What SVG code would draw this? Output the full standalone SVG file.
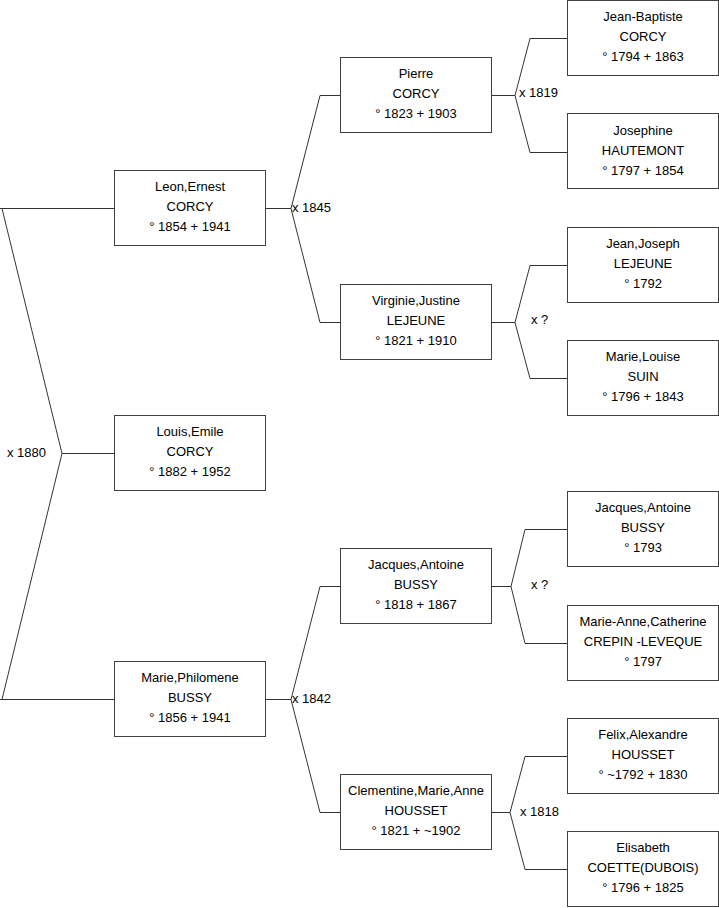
<svg xmlns="http://www.w3.org/2000/svg" width="719" height="908" viewBox="0 0 719 908">
<style>
.box{fill:#fff;stroke:#404040;stroke-width:1}
.n{font-family:"Liberation Sans",Arial,sans-serif;font-size:13px;fill:#000;text-anchor:middle}
.lbl{font-family:"Liberation Sans",Arial,sans-serif;font-size:13px;fill:#000}
.c{fill:none;stroke:#333;stroke-width:1}
</style>
<rect width="719" height="908" fill="#fff"/>
<g id="connectors">
<path class="c" d="M0,208.5H114M2,208.5L62,453.5L2,699.5M62,453.5H114M0,699.5H114"/>
<path class="c" d="M265,208.5H291M320,95.5L291,208.5L320,322.5M320,95.5H340M320,322.5H340"/>
<path class="c" d="M265,699.5H291M320,586.5L291,699.5L320,812.5M320,586.5H340M320,812.5H340"/>
<path class="c" d="M491,95.5H515M530,38.5L515,95.5L530,152.5M530,38.5H567M530,152.5H567"/>
<path class="c" d="M491,322.5H515M530,265.5L515,322.5L530,378.5M530,265.5H567M530,378.5H567"/>
<path class="c" d="M491,586.5H511M525,529.5L511,586.5L525,643.5M525,529.5H567M525,643.5H567"/>
<path class="c" d="M491,812.5H510M525,756.5L510,812.5L525,869.5M525,756.5H567M525,869.5H567"/>
<text class="lbl" x="7" y="457">x 1880</text>
<text class="lbl" x="292" y="212">x 1845</text>
<text class="lbl" x="292" y="703">x 1842</text>
<text class="lbl" x="519" y="97">x 1819</text>
<text class="lbl" x="531" y="324">x ?</text>
<text class="lbl" x="531" y="589">x ?</text>
<text class="lbl" x="520" y="816">x 1818</text>
</g>
<g id="leon">
<rect class="box" x="114.5" y="170.5" width="151" height="75"/>
<text class="n" x="190" y="191">Leon,Ernest</text>
<text class="n" x="190" y="211">CORCY</text>
<text class="n" x="190" y="231">° 1854 + 1941</text>
</g>
<g id="louis">
<rect class="box" x="114.5" y="415.5" width="151" height="75"/>
<text class="n" x="190" y="436">Louis,Emile</text>
<text class="n" x="190" y="456">CORCY</text>
<text class="n" x="190" y="476">° 1882 + 1952</text>
</g>
<g id="marie-philomene">
<rect class="box" x="114.5" y="661.5" width="151" height="75"/>
<text class="n" x="190" y="682">Marie,Philomene</text>
<text class="n" x="190" y="702">BUSSY</text>
<text class="n" x="190" y="722">° 1856 + 1941</text>
</g>
<g id="pierre">
<rect class="box" x="340.5" y="57.5" width="151" height="75"/>
<text class="n" x="416" y="78">Pierre</text>
<text class="n" x="416" y="98">CORCY</text>
<text class="n" x="416" y="118">° 1823 + 1903</text>
</g>
<g id="virginie">
<rect class="box" x="340.5" y="284.5" width="151" height="75"/>
<text class="n" x="416" y="305">Virginie,Justine</text>
<text class="n" x="416" y="325">LEJEUNE</text>
<text class="n" x="416" y="345">° 1821 + 1910</text>
</g>
<g id="jacques-1818">
<rect class="box" x="340.5" y="548.5" width="151" height="75"/>
<text class="n" x="416" y="569">Jacques,Antoine</text>
<text class="n" x="416" y="589">BUSSY</text>
<text class="n" x="416" y="609">° 1818 + 1867</text>
</g>
<g id="clementine">
<rect class="box" x="340.5" y="774.5" width="151" height="75"/>
<text class="n" x="416" y="795">Clementine,Marie,Anne</text>
<text class="n" x="416" y="815">HOUSSET</text>
<text class="n" x="416" y="835">° 1821 + ~1902</text>
</g>
<g id="jean-baptiste">
<rect class="box" x="567.5" y="0.5" width="151" height="75"/>
<text class="n" x="643" y="21">Jean-Baptiste</text>
<text class="n" x="643" y="41">CORCY</text>
<text class="n" x="643" y="61">° 1794 + 1863</text>
</g>
<g id="josephine">
<rect class="box" x="567.5" y="113.5" width="151" height="75"/>
<text class="n" x="643" y="135">Josephine</text>
<text class="n" x="643" y="155">HAUTEMONT</text>
<text class="n" x="643" y="175">° 1797 + 1854</text>
</g>
<g id="jean-joseph">
<rect class="box" x="567.5" y="227.5" width="151" height="75"/>
<text class="n" x="643" y="248">Jean,Joseph</text>
<text class="n" x="643" y="268">LEJEUNE</text>
<text class="n" x="643" y="288">° 1792</text>
</g>
<g id="marie-louise">
<rect class="box" x="567.5" y="340.5" width="151" height="75"/>
<text class="n" x="643" y="361">Marie,Louise</text>
<text class="n" x="643" y="381">SUIN</text>
<text class="n" x="643" y="401">° 1796 + 1843</text>
</g>
<g id="jacques-1793">
<rect class="box" x="567.5" y="491.5" width="151" height="75"/>
<text class="n" x="643" y="512">Jacques,Antoine</text>
<text class="n" x="643" y="532">BUSSY</text>
<text class="n" x="643" y="552">° 1793</text>
</g>
<g id="marie-anne">
<rect class="box" x="567.5" y="605.5" width="151" height="75"/>
<text class="n" x="643" y="626">Marie-Anne,Catherine</text>
<text class="n" x="643" y="646">CREPIN -LEVEQUE</text>
<text class="n" x="643" y="666">° 1797</text>
</g>
<g id="felix">
<rect class="box" x="567.5" y="718.5" width="151" height="75"/>
<text class="n" x="643" y="739">Felix,Alexandre</text>
<text class="n" x="643" y="759">HOUSSET</text>
<text class="n" x="643" y="779">° ~1792 + 1830</text>
</g>
<g id="elisabeth">
<rect class="box" x="567.5" y="831.5" width="151" height="75"/>
<text class="n" x="643" y="852">Elisabeth</text>
<text class="n" x="643" y="872">COETTE(DUBOIS)</text>
<text class="n" x="643" y="892">° 1796 + 1825</text>
</g>
</svg>
